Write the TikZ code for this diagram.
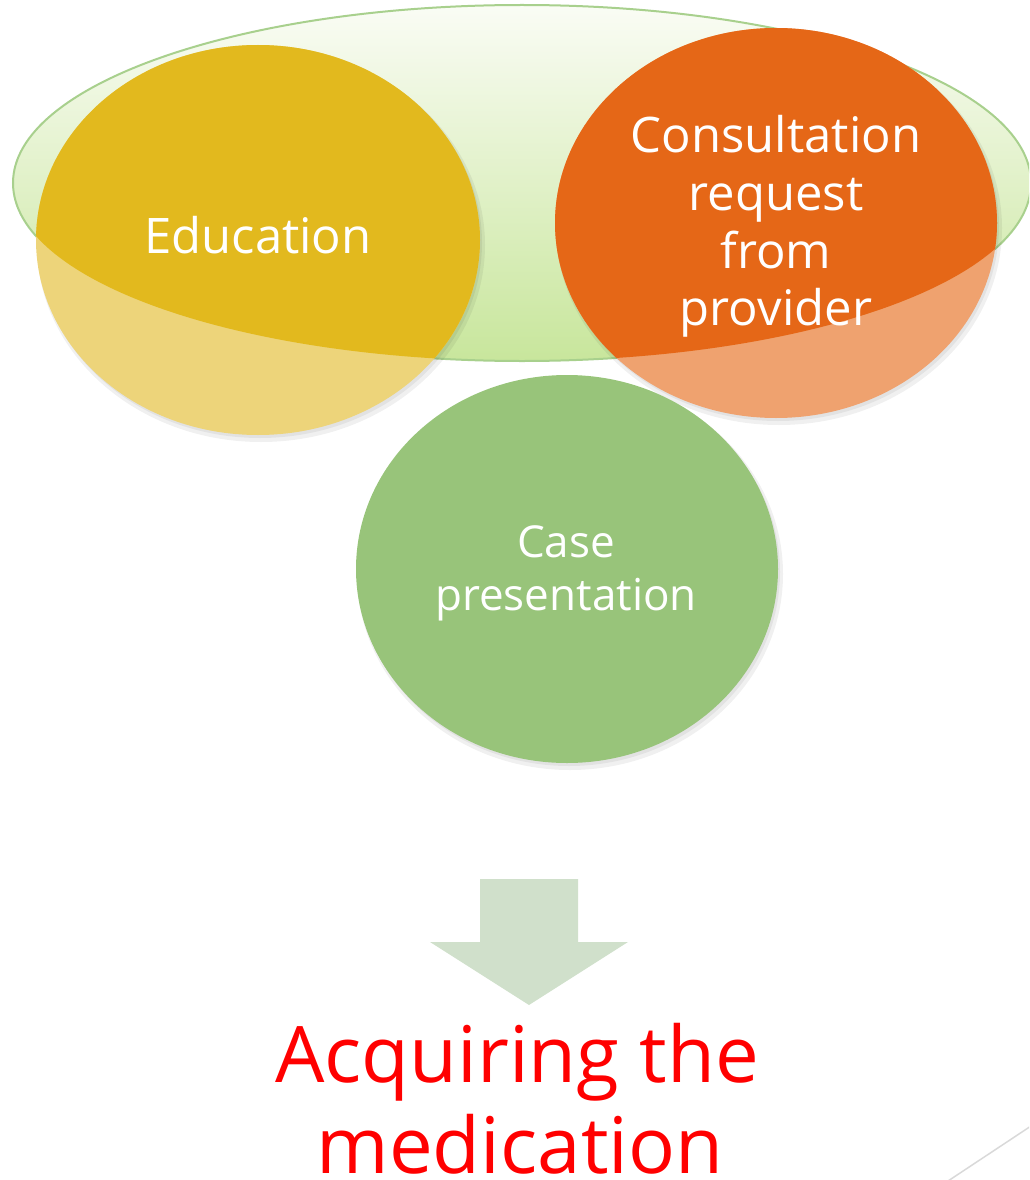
\documentclass[tikz,border=0pt]{standalone}
\usepackage{fontspec}
\setmainfont{Open Sans}
\usetikzlibrary{calc}
\definecolor{ellTop}{HTML}{FAFCF5}
\definecolor{ellBot}{HTML}{C8E69C}
\definecolor{ellLine}{HTML}{A8D08D}
\definecolor{yelSat}{HTML}{E2B91E}
\definecolor{yelPale}{HTML}{EDD47A}
\definecolor{oraSat}{HTML}{E56717}
\definecolor{oraPale}{HTML}{EFA26F}
\definecolor{grnSat}{HTML}{98C47A}
\definecolor{arrowFill}{HTML}{D0E0CB}
\definecolor{cornerLine}{HTML}{D9D9D9}
\begin{document}
\begin{tikzpicture}[x=1pt,y=-1pt,
  whitetext/.style={text=white, inner sep=0pt},
  bigtxt/.style={whitetext, font=\fontsize{49}{58}\selectfont},
  midtxt/.style={whitetext, font=\fontsize{44}{53}\selectfont},
  redtxt/.style={text=red, inner sep=0pt, font=\fontsize{78}{92}\selectfont},
  shadowA/.style={fill=black, opacity=0.06},
  shadowB/.style={fill=black, opacity=0.06}]
\useasboundingbox (0,0) rectangle (1029,1180);
\clip (0,0) rectangle (1029,1180);
% centres
\coordinate (bigc) at (522,183);
\coordinate (educ) at (258,240);
\coordinate (consc) at (776,223);
\coordinate (casec) at (567,569);
% big background ellipse
\shade[top color=ellTop, bottom color=ellBot, draw=ellLine, line width=2pt]
  (bigc) ellipse [x radius=509pt, y radius=178pt];
% Education circle
\fill[shadowA] ($(educ)+(3,5)$) ellipse [x radius=224pt, y radius=197pt];
\fill[shadowB] ($(educ)+(2,3)$) ellipse [x radius=222pt, y radius=195pt];
\fill[yelPale] (educ) ellipse [x radius=222pt, y radius=195pt];
\begin{scope}
  \clip (bigc) ++(-509,0) arc[start angle=180, end angle=360, x radius=509pt, y radius=178pt]
    -- ++(0,-250) -- ++(-1018,0) -- cycle;
  \fill[yelSat] (educ) ellipse [x radius=222pt, y radius=195pt];
\end{scope}
% Consultation circle
\fill[shadowA] ($(consc)+(3,5)$) ellipse [x radius=223pt, y radius=197pt];
\fill[shadowB] ($(consc)+(2,3)$) ellipse [x radius=221pt, y radius=195pt];
\fill[oraPale] (consc) ellipse [x radius=221pt, y radius=195pt];
\begin{scope}
  \clip (bigc) ++(-509,0) arc[start angle=180, end angle=360, x radius=509pt, y radius=178pt]
    -- ++(0,-250) -- ++(-1018,0) -- cycle;
  \fill[oraSat] (consc) ellipse [x radius=221pt, y radius=195pt];
\end{scope}
% Case presentation circle
\fill[shadowA] ($(casec)+(3,5)$) ellipse [x radius=213pt, y radius=196pt];
\fill[shadowB] ($(casec)+(2,3)$) ellipse [x radius=211pt, y radius=194pt];
\fill[grnSat] (casec) ellipse [x radius=211pt, y radius=194pt];
% texts in circles
\node[bigtxt, anchor=base] (edu) at (258,253) {Education};
\node[bigtxt, anchor=base] (cons1) at (776,152) {Consultation};
\node[bigtxt, anchor=base] (cons2) at (776,210) {request};
\node[bigtxt, anchor=base] (cons3) at (776,268) {from};
\node[bigtxt, anchor=base] (cons4) at (776,325) {provider};
\node[midtxt, anchor=base] (case1) at (566,557) {Case};
\node[midtxt, anchor=base] (case2) at (566,610) {presentation};
% block arrow
\fill[arrowFill] (480,879) -- (578,879) -- (578,942) -- (628,942) -- (529,1005)
  -- (430,942) -- (480,942) -- cycle;
% result text
\node[redtxt, anchor=base] (acq1) at (517,1082) {Acquiring the};
\node[redtxt, anchor=base] (acq2) at (520,1173) {medication};
% corner decoration line
\coordinate (cornA) at (948,1181);
\coordinate (cornB) at (1031,1126);
\draw[cornerLine, line width=1.5pt] (cornA) -- (cornB);
\end{tikzpicture}
\end{document}
